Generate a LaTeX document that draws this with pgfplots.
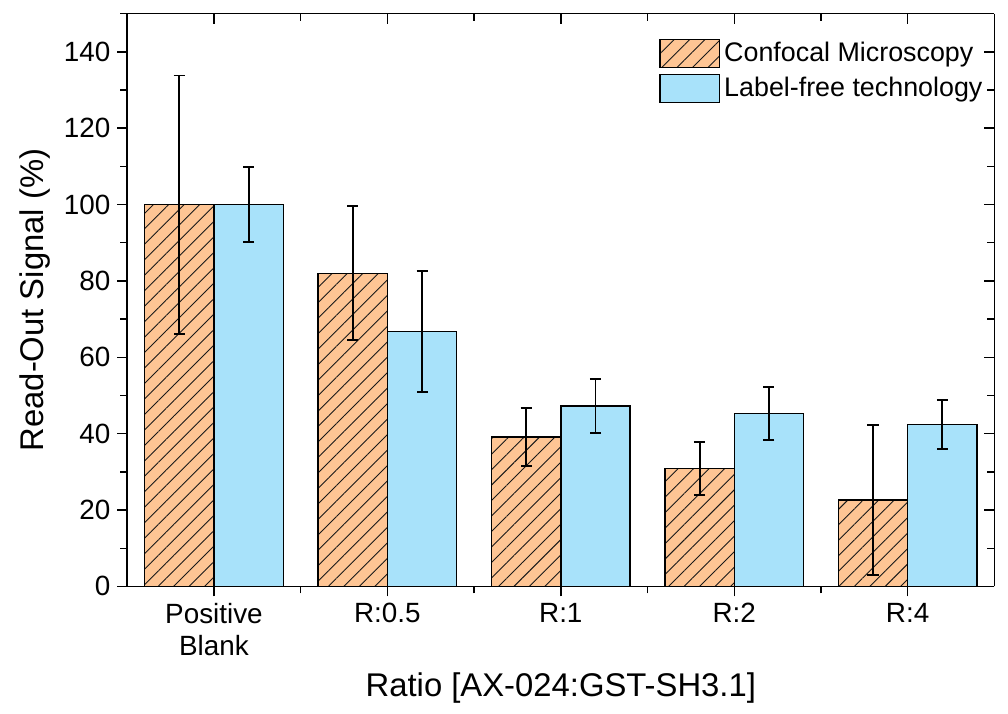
\documentclass[border=0pt]{standalone}
\usepackage{pgfplots}
\pgfplotsset{compat=1.18}
\usepackage{fontspec}
\setmainfont{Liberation Sans}
\usetikzlibrary{patterns.meta}

\definecolor{confocal}{HTML}{FEC594}
\definecolor{labelfree}{HTML}{A8E2FA}

\pgfplotstableread{
x  y     err
0  100   33.8
1  82    17.5
2  39.1  7.5
3  30.9  7.0
4  22.6  19.7
}\confocaldata

\pgfplotstableread{
x  y     err
0  100   9.8
1  66.7  15.8
2  47.2  7.0
3  45.3  7.0
4  42.4  6.3
}\labelfreedata

\begin{document}
\begin{tikzpicture}
\pgfplotsset{
  common/.style={
    scale only axis,
    width=436pt, height=288pt,
    xmin=-0.5, xmax=4.5,
    ymin=0, ymax=150,
    xtick={0,1,2,3,4},
    minor xtick={0.5,1.5,2.5,3.5},
    ytick={0,20,...,140},
    minor ytick={10,30,...,150},
    major tick length=5pt,
    minor tick length=3.5pt,
    every tick/.style={black, line width=0.7pt},
    every minor tick/.style={black, line width=0.7pt},
    axis line style={line width=0.8pt},
  },
}
\begin{axis}[
  common,
  name=ax,
  axis x line*=bottom, axis y line*=left,
  tick align=outside,
  ybar, bar width=0.4,
  xticklabels={{Positive\\Blank},R:0.5,R:1,R:2,R:4},
  xticklabel style={align=center, font=\fontsize{14}{16}\selectfont},
  yticklabel style={font=\fontsize{14}{16}\selectfont},
  /pgf/number format/assume math mode=true,
  xlabel={Ratio [AX-024:GST-SH3.1]},
  ylabel={Read-Out Signal (\%)},
  xlabel style={font=\fontsize{16.5}{19}\selectfont, at={(axis description cs:0.5,-0.177)}, anchor=center},
  ylabel style={font=\fontsize{16.5}{19}\selectfont, at={(axis description cs:-0.1067,0.5)}, anchor=center},
  legend style={at={(axis description cs:0.613,0.958)}, anchor=north west,
    draw=none, fill=none, inner sep=0pt, row sep=2.5pt,
    font=\fontsize{13.5}{15}\selectfont},
  legend cell align=left,
  legend image code/.code={\draw[#1] (0pt,-7pt) rectangle (30pt,7pt);},
  error bars/error bar style={line width=1pt, black},
  error bars/error mark options={rotate=90, mark size=2.8pt, line width=1pt, black},
]
\addplot[draw=black, line width=0.7pt, fill=confocal, bar shift=-0.2,
  postaction={pattern={Lines[angle=45,distance=5.5pt,line width=0.45pt]}, pattern color=black!90},
  error bars/.cd, y dir=both, y explicit]
  table[x=x, y=y, y error=err] {\confocaldata};
\addlegendentry{Confocal Microscopy}
\addplot[draw=black, line width=0.7pt, fill=labelfree, bar shift=0.2,
  error bars/.cd, y dir=both, y explicit]
  table[x=x, y=y, y error=err] {\labelfreedata};
\addlegendentry{Label-free technology}
\coordinate (bl) at (rel axis cs:0,0);
\coordinate (tr) at (rel axis cs:1,1);
\end{axis}
\begin{axis}[
  common,
  axis x line*=top, axis y line*=right,
  tick align=inside,
  xticklabels={}, yticklabels={},
]
\end{axis}
\path (bl) ++(-64pt,-64pt) coordinate (pbl);
\path (tr) ++(4pt,6pt) coordinate (ptr);
\path (pbl) rectangle (ptr);
\end{tikzpicture}
\end{document}
